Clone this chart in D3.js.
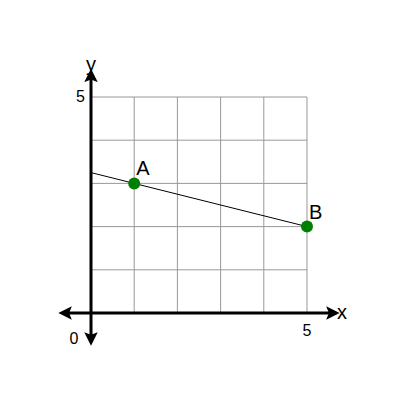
<!DOCTYPE html>
<html><head><meta charset="utf-8">
<script src="https://cdn.jsdelivr.net/npm/d3@7"></script>
<style>body{margin:0;background:#fff}</style>
</head><body>
<svg width="400" height="400"></svg>
<script>
var ticks = [0, 1, 2, 3, 4, 5];
var pointNames = ["A", "B"];
var pointX = [1, 5];
var pointY = [3, 2];
var lineX = [0, 5];
var lineY = [3.25, 2];

var svg = d3.select("svg");
var x = d3.scaleLinear().domain([0, 5]).range([91, 307]);
var y = d3.scaleLinear().domain([0, 5]).range([313, 97]);

var defs = svg.append("defs");
defs.append("marker").attr("id", "arr").attr("viewBox", "0 0 10 10")
  .attr("refX", 5).attr("refY", 5).attr("markerWidth", 4.5).attr("markerHeight", 4.5)
  .attr("orient", "auto-start-reverse")
  .append("path").attr("d", "M0,0L10,5L0,10L2,5Z").attr("fill", "#000");

var grid = svg.append("g").attr("stroke", "#999").attr("stroke-width", 1);
ticks.slice(1).forEach(function(t) {
  grid.append("line").attr("x1", x(t)).attr("x2", x(t)).attr("y1", y(0)).attr("y2", y(5));
  grid.append("line").attr("x1", x(0)).attr("x2", x(5)).attr("y1", y(t)).attr("y2", y(t));
});

svg.append("line").attr("x1", x(-0.6)).attr("x2", x(5.6)).attr("y1", y(0)).attr("y2", y(0))
  .attr("stroke", "#000").attr("stroke-width", 3)
  .attr("marker-start", "url(#arr)").attr("marker-end", "url(#arr)");
svg.append("line").attr("x1", x(0)).attr("x2", x(0)).attr("y1", y(-0.6)).attr("y2", y(5.5))
  .attr("stroke", "#000").attr("stroke-width", 3)
  .attr("marker-start", "url(#arr)").attr("marker-end", "url(#arr)");

var txt = svg.append("g").attr("font-family", "Liberation Sans, Arial, sans-serif").attr("fill", "#000");
txt.append("text").attr("x", x(5.6) + 4).attr("y", y(0) + 6).attr("font-size", 20).text("x");
txt.append("text").attr("x", x(0)).attr("y", y(5.5) - 4).attr("text-anchor", "middle").attr("font-size", 20).text("y");
txt.append("text").attr("x", x(0) - 6).attr("y", y(5) + 5).attr("text-anchor", "end").attr("font-size", 16).text("5");
txt.append("text").attr("x", x(5)).attr("y", y(0) + 23).attr("text-anchor", "middle").attr("font-size", 16).text("5");
txt.append("text").attr("x", x(0) - 17).attr("y", y(0) + 31).attr("text-anchor", "middle").attr("font-size", 16).text("0");

svg.append("line").attr("x1", x(lineX[0])).attr("y1", y(lineY[0]))
  .attr("x2", x(lineX[1])).attr("y2", y(lineY[1])).attr("stroke", "#000").attr("stroke-width", 1);

pointNames.forEach(function(n, i) {
  svg.append("circle").attr("cx", x(pointX[i])).attr("cy", y(pointY[i])).attr("r", 6).attr("fill", "#008000");
  txt.append("text").attr("x", x(pointX[i]) + 2).attr("y", y(pointY[i]) - 8).attr("font-size", 20).text(n);
});
</script>
</body></html>
